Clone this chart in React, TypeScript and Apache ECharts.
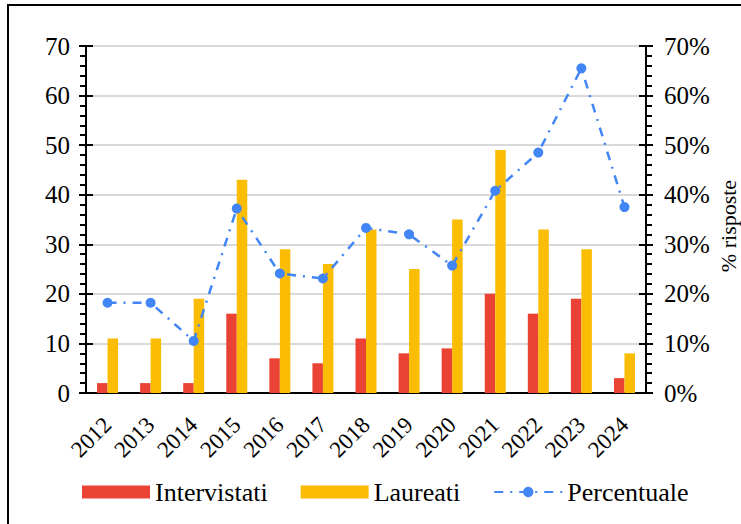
import React, { useEffect, useRef } from "react";
import * as echarts from "echarts";

const years = ["2012", "2013", "2014", "2015", "2016", "2017", "2018", "2019", "2020", "2021", "2022", "2023", "2024"];
const intervistati = [2, 2, 2, 16, 7, 6, 11, 8, 9, 20, 16, 19, 3];
const laureati = [11, 11, 19, 43, 29, 26, 33, 25, 35, 49, 33, 29, 8];
const percentuale = [18.2, 18.2, 10.5, 37.2, 24.1, 23.1, 33.3, 32.0, 25.7, 40.8, 48.5, 65.5, 37.5];
const rightTitle = "% risposte";

const FONT = "Liberation Serif";
const FS = 25;

export default function App() {
  const ref = useRef<HTMLDivElement>(null);
  useEffect(() => {
    if (!ref.current) return;
    const chart = echarts.init(ref.current, null, { renderer: "svg" });
    const baseY = {
      type: "value",
      min: 0,
      max: 70,
      interval: 10,
    };
    chart.setOption({
      animation: false,
      textStyle: { fontFamily: FONT, color: "#000" },
      grid: {
        left: 86,
        right: 95,
        top: 46,
        bottom: 131,
        containLabel: false,
        outerBoundsMode: "none",
        show: true,
        borderColor: "#000",
        borderWidth: 2,
        backgroundColor: "transparent",
      },
      legend: {
        left: 77,
        top: 474,
        itemWidth: 68,
        itemHeight: 13,
        itemGap: 33,
        textStyle: { fontFamily: FONT, fontSize: 26, color: "#000" },
        data: [
          { name: "Intervistati", icon: "rect" },
          { name: "Laureati", icon: "rect" },
          { name: "Percentuale" },
        ],
      },
      xAxis: {
        type: "category",
        data: years,
        axisLine: { show: true, lineStyle: { color: "#000", width: 2 } },
        axisTick: { show: false },
        axisLabel: { rotate: 45, interval: 0, fontFamily: FONT, fontSize: 23, color: "#000", margin: 28 },
        splitLine: { show: false },
      },
      yAxis: [
        {
          ...baseY,
          position: "left",
          axisLine: { show: true, lineStyle: { color: "#000", width: 2 } },
          axisTick: { show: true, length: 7, lineStyle: { color: "#000", width: 2 } },
          minorTick: { show: true, splitNumber: 5, length: 6, lineStyle: { color: "#000", width: 2 } },
          axisLabel: { fontFamily: FONT, fontSize: FS, color: "#000", margin: 16 },
          splitLine: { show: true, lineStyle: { color: "#d9d9d9", width: 2 } },
        },
        {
          ...baseY,
          position: "right",
          axisLine: { show: true, lineStyle: { color: "#000", width: 2 } },
          axisTick: { show: true, length: 7, lineStyle: { color: "#000", width: 2 } },
          minorTick: { show: true, splitNumber: 5, length: 6, lineStyle: { color: "#000", width: 2 } },
          axisLabel: { fontFamily: FONT, fontSize: FS, color: "#000", margin: 18, formatter: "{value}%" },
          splitLine: { show: false },
        },
        {
          ...baseY,
          position: "left",
          axisLine: { show: false },
          axisTick: { show: true, inside: true, length: 7, lineStyle: { color: "#000", width: 2 } },
          axisLabel: { show: false },
          splitLine: { show: false },
        },
        {
          ...baseY,
          position: "right",
          axisLine: { show: false },
          axisTick: { show: true, inside: true, length: 7, lineStyle: { color: "#000", width: 2 } },
          axisLabel: { show: false },
          splitLine: { show: false },
        },
      ],
      series: [
        {
          name: "Intervistati",
          type: "bar",
          data: intervistati,
          barWidth: 10.5,
          barGap: "0%",
          itemStyle: { color: "#EA4335" },
          yAxisIndex: 0,
        },
        {
          name: "Laureati",
          type: "bar",
          data: laureati,
          barWidth: 10.5,
          barGap: "0%",
          itemStyle: { color: "#FBBC04" },
          yAxisIndex: 0,
        },
        {
          name: "Percentuale",
          type: "line",
          data: percentuale,
          yAxisIndex: 1,
          symbol: "circle",
          symbolSize: 10,
          itemStyle: { color: "#4285F4" },
          lineStyle: { color: "#4285F4", width: 2.5, type: [9, 7, 2, 7] },
          z: 5,
        },
      ],
      graphic: [
        {
          type: "rect",
          shape: { x: 8, y: 5, width: 760, height: 560 },
          style: { fill: "none", stroke: "#000", lineWidth: 2 },
          silent: true,
        },
        {
          type: "text",
          x: 728,
          y: 226,
          rotation: Math.PI / 2,
          style: {
            text: rightTitle,
            fontFamily: FONT,
            fontSize: 22,
            fill: "#000",
            textAlign: "center",
            textVerticalAlign: "middle",
          },
        },
      ],
    });
    return () => chart.dispose();
  }, []);
  return (
    <div
      ref={ref}
      style={{ position: "absolute", left: 0, top: 0, width: 741, height: 524, background: "#fff" }}
    />
  );
}
